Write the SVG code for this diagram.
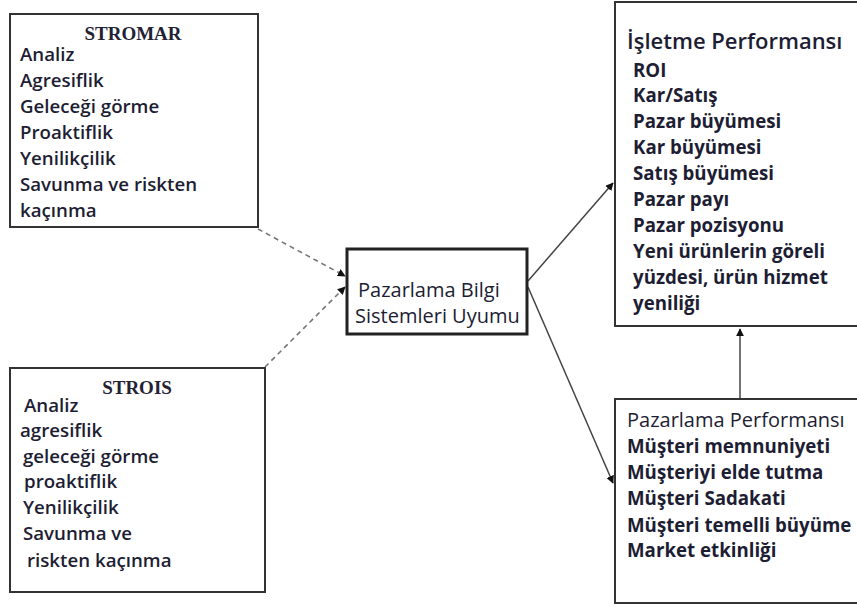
<svg xmlns="http://www.w3.org/2000/svg" width="857" height="610" viewBox="0 0 857 610">
  <defs>
    <style>
      .box { fill: #ffffff; stroke: #333333; stroke-width: 2; }
      .core { fill: #ffffff; stroke: #222222; stroke-width: 3; }
      .t { font-family: "Open Sans", "Noto Sans", "Liberation Sans", sans-serif; font-size: 18.7px; font-weight: 600; fill: #1d1d33; }
      .r { font-size: 20px; font-weight: 400; }
      .b { font-size: 18.7px; font-weight: 700; }
      .title { font-family: "Liberation Serif", "Times New Roman", serif; font-size: 19px; font-weight: 700; fill: #222233; text-anchor: middle; }
      .head { font-size: 22px; font-weight: 600; }
      .dash { fill: none; stroke: #777777; stroke-width: 1.6; stroke-dasharray: 5 4; }
      .solid { fill: none; stroke: #444444; stroke-width: 1.5; }
    </style>
    <marker id="ah" viewBox="0 0 10 10" refX="9" refY="5" markerWidth="8" markerHeight="8" markerUnits="userSpaceOnUse" orient="auto">
      <path d="M0,0 L10,5 L0,10 z" fill="#111111"/>
    </marker>
  </defs>

  <rect width="857" height="610" fill="#ffffff"/>

  <!-- connectors -->
  <g id="connectors">
    <line class="dash" x1="258" y1="229" x2="345" y2="276" marker-end="url(#ah)"/>
    <line class="dash" x1="265" y1="367" x2="345" y2="287" marker-end="url(#ah)"/>
    <line class="solid" x1="528" y1="281" x2="613" y2="183" marker-end="url(#ah)"/>
    <line class="solid" x1="528" y1="287" x2="613" y2="483" marker-end="url(#ah)"/>
    <line class="solid" x1="740" y1="398" x2="740" y2="329" marker-end="url(#ah)"/>
  </g>

  <!-- STROMAR -->
  <g id="stromar">
    <rect class="box" x="10" y="14" width="248" height="213"/>
    <text class="title" x="133" y="40">STROMAR</text>
    <text class="t" x="20" y="61">Analiz</text>
    <text class="t" x="20" y="87">Agresiflik</text>
    <text class="t" x="20" y="113">Geleceği görme</text>
    <text class="t" x="20" y="139">Proaktiflik</text>
    <text class="t" x="20" y="165">Yenilikçilik</text>
    <text class="t" x="20" y="191">Savunma ve riskten</text>
    <text class="t" x="20" y="217">kaçınma</text>
  </g>

  <!-- STROIS -->
  <g id="strois">
    <rect class="box" x="10" y="368" width="255" height="224"/>
    <text class="title" x="137" y="394">STROIS</text>
    <text class="t" x="24" y="412">Analiz</text>
    <text class="t" x="20" y="437">agresiflik</text>
    <text class="t" x="23" y="463">geleceği görme</text>
    <text class="t" x="24" y="488">proaktiflik</text>
    <text class="t" x="23" y="514">Yenilikçilik</text>
    <text class="t" x="23" y="540">Savunma ve</text>
    <text class="t" x="27" y="567">riskten kaçınma</text>
  </g>

  <!-- Pazarlama Bilgi Sistemleri Uyumu -->
  <g id="pbsu">
    <rect class="core" x="347" y="249" width="180" height="85"/>
    <text class="t r" x="358" y="297">Pazarlama Bilgi</text>
    <text class="t r" x="355" y="323">Sistemleri Uyumu</text>
  </g>

  <!-- İşletme Performansı -->
  <g id="isletme">
    <rect class="box" x="615" y="2" width="250" height="324"/>
    <text class="t head" x="627" y="49">İşletme Performansı</text>
    <text class="t b" x="633" y="77">ROI</text>
    <text class="t b" x="633" y="102">Kar/Satış</text>
    <text class="t b" x="633" y="128">Pazar büyümesi</text>
    <text class="t b" x="633" y="154">Kar büyümesi</text>
    <text class="t b" x="633" y="180">Satış büyümesi</text>
    <text class="t b" x="633" y="206">Pazar payı</text>
    <text class="t b" x="633" y="232">Pazar pozisyonu</text>
    <text class="t b" x="633" y="258">Yeni ürünlerin göreli</text>
    <text class="t b" x="633" y="284">yüzdesi, ürün hizmet</text>
    <text class="t b" x="633" y="310">yeniliği</text>
  </g>

  <!-- Pazarlama Performansı -->
  <g id="pazarlama">
    <rect class="box" x="615" y="399" width="250" height="204"/>
    <text class="t r" x="627" y="427">Pazarlama Performansı</text>
    <text class="t b" x="627" y="453">Müşteri memnuniyeti</text>
    <text class="t b" x="627" y="479">Müşteriyi elde tutma</text>
    <text class="t b" x="627" y="505">Müşteri Sadakati</text>
    <text class="t b" x="627" y="532">Müşteri temelli büyüme</text>
    <text class="t b" x="627" y="557">Market etkinliği</text>
  </g>
</svg>
